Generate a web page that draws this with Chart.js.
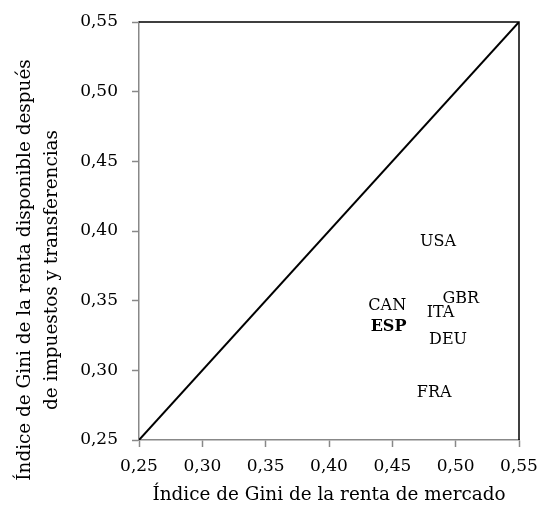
<!DOCTYPE html>
<html>
<head>
<meta charset="utf-8">
<script src="https://cdn.jsdelivr.net/npm/chart.js@4"></script>
<style>
  html, body { margin: 0; padding: 0; background: #fff; }
  #wrap { width: 540px; height: 511px; }
</style>
</head>
<body>
<div id="wrap"><canvas id="grafico"></canvas></div>
<script>
// datos
const paises = ['USA', 'GBR', 'CAN', 'ITA', 'ESP', 'DEU', 'FRA'];
const giniMercado = [0.486, 0.504, 0.446, 0.488, 0.447, 0.494, 0.483];
const giniDisponible = [0.392, 0.351, 0.346, 0.341, 0.331, 0.322, 0.284];
const negrita = ['ESP'];
const diagonal = [0.25, 0.55];
const marcas = [0.25, 0.30, 0.35, 0.40, 0.45, 0.50, 0.55];
const tituloX = 'Índice de Gini de la renta de mercado';
const tituloY = ['Índice de Gini de la renta disponible después', 'de impuestos y transferencias'];

const fuente = '"DejaVu Serif", "Liberation Serif", serif';
const coma = v => Number(v).toFixed(2).replace('.', ',');

// etiquetas de los paises en lugar de marcadores
const etiquetas = {
  id: 'etiquetas',
  afterDatasetsDraw(chart) {
    const meta = chart.getDatasetMeta(1);
    const c = chart.ctx;
    c.save();
    c.fillStyle = '#000';
    c.textAlign = 'center';
    c.textBaseline = 'middle';
    meta.data.forEach((p, i) => {
      const b = negrita.includes(paises[i]) ? 'bold ' : '';
      c.font = b + '16px ' + fuente;
      c.fillText(paises[i], p.x, p.y);
    });
    c.restore();
  }
};

// marco negro arriba y a la derecha
const marco = {
  id: 'marco',
  beforeDatasetsDraw(chart) {
    const a = chart.chartArea;
    const c = chart.ctx;
    c.save();
    c.strokeStyle = '#000';
    c.lineWidth = 1.5;
    c.beginPath();
    c.moveTo(a.left, a.top);
    c.lineTo(a.right, a.top);
    c.lineTo(a.right, a.bottom);
    c.stroke();
    c.restore();
  }
};

// titulo del eje vertical, algo desplazado hacia abajo como en el original
const titulo = {
  id: 'titulo',
  afterDraw(chart) {
    const c = chart.ctx;
    c.save();
    c.fillStyle = '#000';
    c.font = '18.4px ' + fuente;
    c.textAlign = 'center';
    c.textBaseline = 'middle';
    tituloY.forEach((t, i) => {
      c.save();
      c.translate(25 + i * 27, 270);
      c.rotate(-Math.PI / 2);
      c.fillText(t, 0, 0);
      c.restore();
    });
    c.restore();
  }
};

const sinRelleno = s => { s.paddingLeft = 0; s.paddingRight = 0; s.paddingTop = 0; s.paddingBottom = 0; };

new Chart(document.getElementById('grafico'), {
  type: 'scatter',
  data: {
    datasets: [{
      type: 'line',
      data: diagonal.map(v => ({ x: v, y: v })),
      borderColor: '#000',
      borderWidth: 2,
      pointRadius: 0,
      fill: false
    }, {
      data: paises.map((p, i) => ({ x: giniMercado[i], y: giniDisponible[i] })),
      pointRadius: 0,
      pointHoverRadius: 0
    }]
  },
  options: {
    responsive: true,
    maintainAspectRatio: false,
    animation: false,
    layout: { padding: { top: 22, right: 21, left: 0, bottom: 0 } },
    plugins: { legend: { display: false }, tooltip: { enabled: false } },
    scales: {
      x: {
        type: 'linear',
        min: 0.25,
        max: 0.55,
        afterBuildTicks: s => { s.ticks = marcas.map(v => ({ value: v })); },
        afterFit: s => { s.height = 71; sinRelleno(s); },
        border: { color: '#888', width: 1.5 },
        grid: { drawOnChartArea: false, color: '#888', tickLength: 7, tickWidth: 1.5 },
        ticks: { color: '#000', padding: 9, font: { family: fuente, size: 17 }, callback: coma, maxRotation: 0 },
        title: { display: true, text: tituloX, color: '#000', font: { family: fuente, size: 18.4 }, padding: { top: 4, bottom: 5 } }
      },
      y: {
        type: 'linear',
        min: 0.25,
        max: 0.55,
        afterBuildTicks: s => { s.ticks = marcas.map(v => ({ value: v })); },
        afterFit: s => { s.width = 139; sinRelleno(s); },
        border: { color: '#888', width: 1.5 },
        grid: { drawOnChartArea: false, color: '#888', tickLength: 7, tickWidth: 1.5 },
        ticks: { color: '#000', padding: 14, font: { family: fuente, size: 17 }, callback: coma }
      }
    }
  },
  plugins: [marco, etiquetas, titulo]
});
</script>
</body>
</html>
